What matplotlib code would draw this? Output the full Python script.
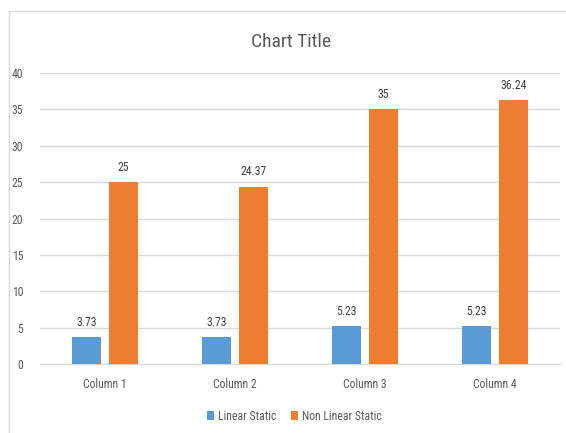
import matplotlib
matplotlib.use('Agg')
import matplotlib.pyplot as plt
from matplotlib import font_manager
import numpy as np
from matplotlib.lines import Line2D

# narrow font similar to Calibri, if there is one
names = {f.name for f in font_manager.fontManager.ttflist}
narrow = [n for n in ['Liberation Sans Narrow', 'Roboto Condensed', 'Open Sans Condensed',
                      'DejaVu Sans Condensed'] if n in names]
plt.rcParams['font.family'] = narrow[:1] + ['DejaVu Sans']
if not narrow:
    plt.rcParams['font.stretch'] = 'condensed'

columns = ['Column 1', 'Column 2', 'Column 3', 'Column 4']
linear_static = [3.73, 3.73, 5.23, 5.23]
non_linear_static = [25, 24.37, 35, 36.24]
linear_labels = ['3.73', '3.73', '5.23', '5.23']
non_linear_labels = ['25', '24.37', '35', '36.24']

fig = plt.figure(figsize=(5.66, 4.33), dpi=100)
ax = fig.add_axes([40 / 566, 69 / 433, 520 / 566, 291 / 433])

x = np.arange(len(columns))
w = 0.223
off = 0.142
b1 = ax.bar(x - off, linear_static, w, color='#5B9BD5', label='Linear Static', zorder=3)
b2 = ax.bar(x + off, non_linear_static, w, color='#ED7D31', label='Non Linear Static', zorder=3)

for bars, labels in [(b1, linear_labels), (b2, non_linear_labels)]:
    for r, t in zip(bars, labels):
        ax.annotate(t, (r.get_x() + r.get_width() / 2, r.get_height()),
                    xytext=(0, 6), textcoords='offset points',
                    ha='center', va='bottom', fontsize=8.5, color='#404040')

ax.set_xlim(-0.5, 3.5)
ax.set_ylim(0, 40)
ax.set_yticks(range(0, 41, 5))
ax.set_xticks(x)
ax.set_xticklabels(columns)
ax.yaxis.grid(True, color='#d9d9d9', linewidth=1, zorder=0)
for s in ['top', 'right', 'left']:
    ax.spines[s].set_visible(False)
ax.spines['bottom'].set_color('#d9d9d9')
ax.tick_params(axis='both', length=0, labelsize=8.5, colors='#595959')
ax.tick_params(axis='y', pad=12)
ax.tick_params(axis='x', pad=10)

fig.text(291 / 566, 1 - 42 / 433, 'Chart Title', ha='center', va='center',
         fontsize=14, color='#595959')

ax.legend(loc='center', bbox_to_anchor=(0.52, (433 - 416) / 433),
          bbox_transform=fig.transFigure, ncol=2, frameon=False,
          fontsize=8.5, labelcolor='#595959', handlelength=0.6, handleheight=0.9,
          handletextpad=0.3, columnspacing=1.3)

# chart area border
fig.add_artist(Line2D([9 / 566, 9 / 566], [0, 1 - 11 / 433], color='#d9d9d9', lw=1))
fig.add_artist(Line2D([9 / 566, 1], [1 - 11 / 433, 1 - 11 / 433], color='#d9d9d9', lw=1))

fig.savefig('out.png', dpi=100)
